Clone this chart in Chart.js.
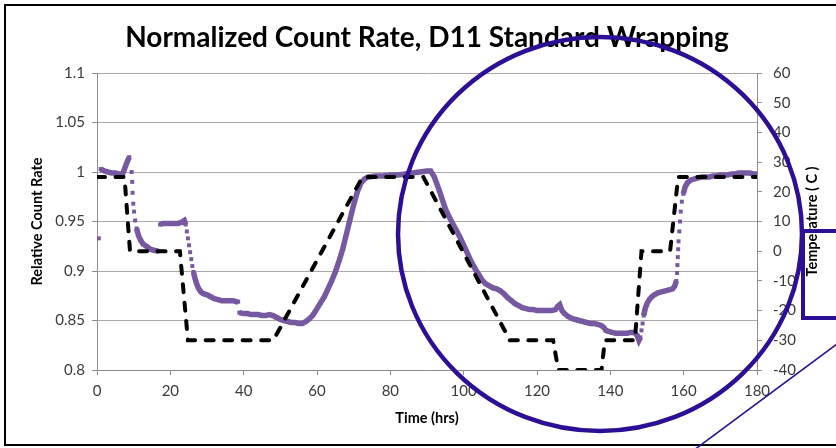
<!DOCTYPE html>
<html>
<head>
<meta charset="utf-8">
<script src="https://cdn.jsdelivr.net/npm/chart.js@4.4.0/dist/chart.umd.min.js"></script>
<style>
  html, body { margin: 0; padding: 0; background: #fff; }
</style>
</head>
<body>
<canvas id="chart" width="836" height="448"></canvas>
<script>
// Count rate (purple dots)
const countTime = [
  0.5, 1.0, 1.5, 2, 3, 4, 5, 6, 7, 7.6, 8.2, 8.8,
  9.45, 9.6, 9.7, 9.9, 10.1, 10.4, 10.8, 11.3, 11.9, 12.6, 13.5, 14.5, 15.5, 16.8,
  17.2, 18, 19, 20, 21, 22, 23, 23.8,
  24.2, 24.5, 24.8, 25.1, 25.4, 25.7, 26.0, 26.3, 26.7, 27.1, 27.6, 28.3, 29, 30,
  31, 32, 33, 34, 35, 36, 37, 38, 38.5,
  38.8, 40, 41, 42, 43, 44, 45, 46, 47, 48, 49, 50, 51, 52, 53, 54, 55, 56, 57,
  58, 59, 60, 61, 62, 63, 64, 65, 66, 67, 68, 69, 70, 71, 72, 73, 74, 76, 78,
  80, 82, 84, 86, 88, 90, 91, 92, 93, 94, 95, 96, 97, 98, 99, 100, 101, 102,
  103, 104, 105, 106, 107, 108, 109, 110, 111, 112, 113, 114, 115, 116, 117,
  118, 119, 120, 121, 122, 123, 124, 125, 125.6, 126.2, 126.8, 127.5, 128.5,
  129.5, 130.5, 131.5, 132.5, 133.5, 134.5, 135.5, 136.5, 137.5, 138.2, 138.8,
  139.5, 140.5, 141.5, 142.5, 143.5, 144.5, 145.5, 146.5, 147.3, 147.8, 148.2,
  148.5, 148.8, 149.1, 149.5, 150, 150.6, 151.3, 152, 153, 154, 155, 156, 157,
  157.6, 158, 158.2, 158.3, 158.4, 158.5, 158.6, 158.8, 159, 159.2, 159.5, 159.9,
  160.4, 161, 162, 163, 164, 165, 166, 167, 168, 169, 170, 171, 172, 173, 174,
  175, 176, 177, 178, 179, 180
];
const countRate = [
  0.933, 1.003, 1.002, 1.001, 1.000, 0.999, 0.999, 0.998, 0.998, 1.004, 1.010, 1.015,
  1.000, 0.990, 0.979, 0.968, 0.960, 0.951, 0.943, 0.936, 0.931, 0.927, 0.925, 0.922, 0.921, 0.920,
  0.947, 0.948, 0.948, 0.948, 0.948, 0.948, 0.949, 0.951,
  0.947, 0.940, 0.933, 0.926, 0.919, 0.912, 0.905, 0.899, 0.893, 0.888, 0.883, 0.879, 0.877, 0.876,
  0.874, 0.872, 0.871, 0.870, 0.870, 0.870, 0.870, 0.869, 0.869,
  0.858, 0.857, 0.857, 0.856, 0.856, 0.856, 0.855, 0.855, 0.856, 0.855, 0.853, 0.851, 0.850, 0.849, 0.848, 0.848, 0.847, 0.847, 0.849,
  0.852, 0.856, 0.862, 0.868, 0.874, 0.882, 0.890, 0.899, 0.910, 0.922, 0.937, 0.952, 0.967, 0.980, 0.989, 0.993, 0.995, 0.996, 0.996,
  0.997, 0.997, 0.998, 0.999, 1.000, 1.001, 1.001, 0.995, 0.985, 0.974, 0.963, 0.955, 0.948, 0.941, 0.934, 0.926, 0.918, 0.910,
  0.903, 0.897, 0.891, 0.887, 0.885, 0.883, 0.882, 0.880, 0.877, 0.873, 0.870, 0.867, 0.865, 0.863, 0.862,
  0.861, 0.861, 0.860, 0.860, 0.860, 0.860, 0.860, 0.861, 0.864, 0.866, 0.860, 0.857, 0.854,
  0.852, 0.851, 0.850, 0.849, 0.848, 0.847, 0.847, 0.846, 0.845, 0.843, 0.840,
  0.839, 0.838, 0.837, 0.837, 0.837, 0.837, 0.838, 0.838, 0.835, 0.830, 0.833,
  0.840, 0.847, 0.855, 0.862, 0.867, 0.871, 0.874, 0.876, 0.878, 0.879, 0.880, 0.881, 0.882,
  0.885, 0.890, 0.898, 0.906, 0.914, 0.922, 0.930, 0.940, 0.950, 0.960, 0.970, 0.978,
  0.985, 0.989, 0.992, 0.993, 0.994, 0.995, 0.995, 0.995, 0.996, 0.996, 0.997, 0.997, 0.997, 0.998, 0.998,
  0.999, 0.999, 0.999, 0.999, 0.998, 0.998
];

// Temperature profile (black dashes), right axis
const tempTime  = [0, 7.5, 9, 22.6, 24.8, 48.1, 72.4, 89, 112.6, 124.4, 125.8, 137.6, 138.5, 146.7, 148.5, 156.3, 158.5, 180];
const tempValue = [25, 25, 0, 0, -30, -30, 25, 25, -30, -30, -40, -40, -30, -30, 0, 0, 25, 25];

// axis ticks
const timeTicks = [0, 20, 40, 60, 80, 100, 120, 140, 160, 180];
const rateTicks = [0.8, 0.85, 0.9, 0.95, 1, 1.05, 1.1];
const tempTicks = [-40, -30, -20, -10, 0, 10, 20, 30, 40, 50, 60];

const purple = '#7659A0';
const gridGray = '#A8A8A8';
const axisGray = '#8C8C8C';
const labelColor = '#3A3A3A';
const tickFont = { family: 'Lato', size: 15 };
const axisTitleFont = { family: 'Lato', size: 14.5, weight: 'bold', lineHeight: 1.2 };

const countPoints = countTime.map((t, i) => ({ x: t, y: countRate[i] }));
const tempPoints = tempTime.map((t, i) => ({ x: t, y: tempValue[i] }));

// steep stretches of the count data show as separate dots, not a band
function steep(ctx) {
  const a = ctx.p0.parsed, b = ctx.p1.parsed;
  return Math.abs((b.y - a.y) / (b.x - a.x)) > 0.018;
}

const decorations = {
  id: 'decorations',
  beforeDraw(chart) {
    const c = chart.ctx;
    c.save();
    c.fillStyle = '#fff';
    c.fillRect(0, 0, chart.width, chart.height);
    c.restore();
  },
  afterDraw(chart) {
    const c = chart.ctx;
    const area = chart.chartArea;
    c.save();
    // right axis title reads bottom to top like the left one
    c.translate(812, (area.top + area.bottom) / 2);
    c.rotate(-Math.PI / 2);
    c.font = 'bold 14.5px Lato';
    c.fillStyle = '#000';
    c.textAlign = 'center';
    c.textBaseline = 'middle';
    c.fillText('Temperature ( C )', 0, 0);
    c.restore();

    // outer frame
    c.save();
    c.strokeStyle = '#000';
    c.lineWidth = 2;
    c.strokeRect(5, 5, 860, 440);

    // hand drawn markup on top of the chart
    c.strokeStyle = '#2D0F96';
    c.lineWidth = 4.5;
    c.beginPath();
    c.ellipse(600, 234, 202, 197, 0, 0, Math.PI * 2);
    c.stroke();
    c.lineWidth = 4;
    c.strokeRect(803, 231, 100, 87);
    c.lineWidth = 1.6;
    c.beginPath();
    c.moveTo(690, 453);
    c.lineTo(845, 338);
    c.stroke();
    c.restore();
  }
};

new Chart(document.getElementById('chart'), {
  type: 'scatter',
  data: {
    datasets: [
      {
        label: 'Temperature',
        data: tempPoints,
        yAxisID: 'y1',
        showLine: true,
        borderColor: '#000',
        borderWidth: 4,
        borderDash: [8, 10.5],
        borderCapStyle: 'round',
        pointRadius: 0
      },
      {
        label: 'Relative Count Rate',
        data: countPoints,
        yAxisID: 'y',
        showLine: true,
        borderColor: purple,
        borderWidth: 5.5,
        pointStyle: 'rect',
        pointRadius: 2.8,
        pointBorderWidth: 0,
        pointBackgroundColor: purple,
        segment: { borderColor: ctx => steep(ctx) ? 'transparent' : purple }
      }
    ]
  },
  options: {
    responsive: false,
    animation: false,
    layout: { padding: 0 },
    plugins: {
      legend: { display: false },
      tooltip: { enabled: false },
      title: {
        display: true,
        fullSize: false,
        text: 'Normalized Count Rate, D11 Standard Wrapping',
        color: '#000',
        font: { family: 'Lato', size: 28, weight: 'bold', lineHeight: 1.2 },
        padding: { top: 21, bottom: 18.4 }
      }
    },
    scales: {
      x: {
        type: 'linear',
        min: 0,
        max: 180,
        afterBuildTicks: s => { s.ticks = timeTicks.map(v => ({ value: v })); },
        afterFit: s => { s.height = 78; },
        ticks: { color: labelColor, font: tickFont, padding: 7, maxRotation: 0 },
        grid: { drawOnChartArea: false, tickLength: 5, color: axisGray },
        border: { color: axisGray },
        title: { display: true, text: 'Time (hrs)', color: '#000', font: axisTitleFont, padding: { top: 0, bottom: 21 } }
      },
      y: {
        position: 'left',
        min: 0.8,
        max: 1.1,
        afterBuildTicks: s => { s.ticks = rateTicks.map(v => ({ value: v })); },
        afterFit: s => { s.width = 97; },
        ticks: { color: labelColor, font: tickFont, padding: 7, callback: v => String(v) },
        grid: { color: gridGray, tickColor: axisGray, tickLength: 5 },
        border: { color: axisGray },
        title: { display: true, text: 'Relative Count Rate', color: '#000', font: axisTitleFont, padding: { top: 29, bottom: 0 } }
      },
      y1: {
        position: 'right',
        min: -40,
        max: 60,
        afterBuildTicks: s => { s.ticks = tempTicks.map(v => ({ value: v })); },
        afterFit: s => { s.width = 79; },
        ticks: { color: labelColor, font: tickFont, padding: 11, callback: v => String(v) },
        grid: { drawOnChartArea: false, tickLength: 5, color: axisGray },
        border: { color: axisGray }
      }
    }
  },
  plugins: [decorations]
});
</script>
</body>
</html>
